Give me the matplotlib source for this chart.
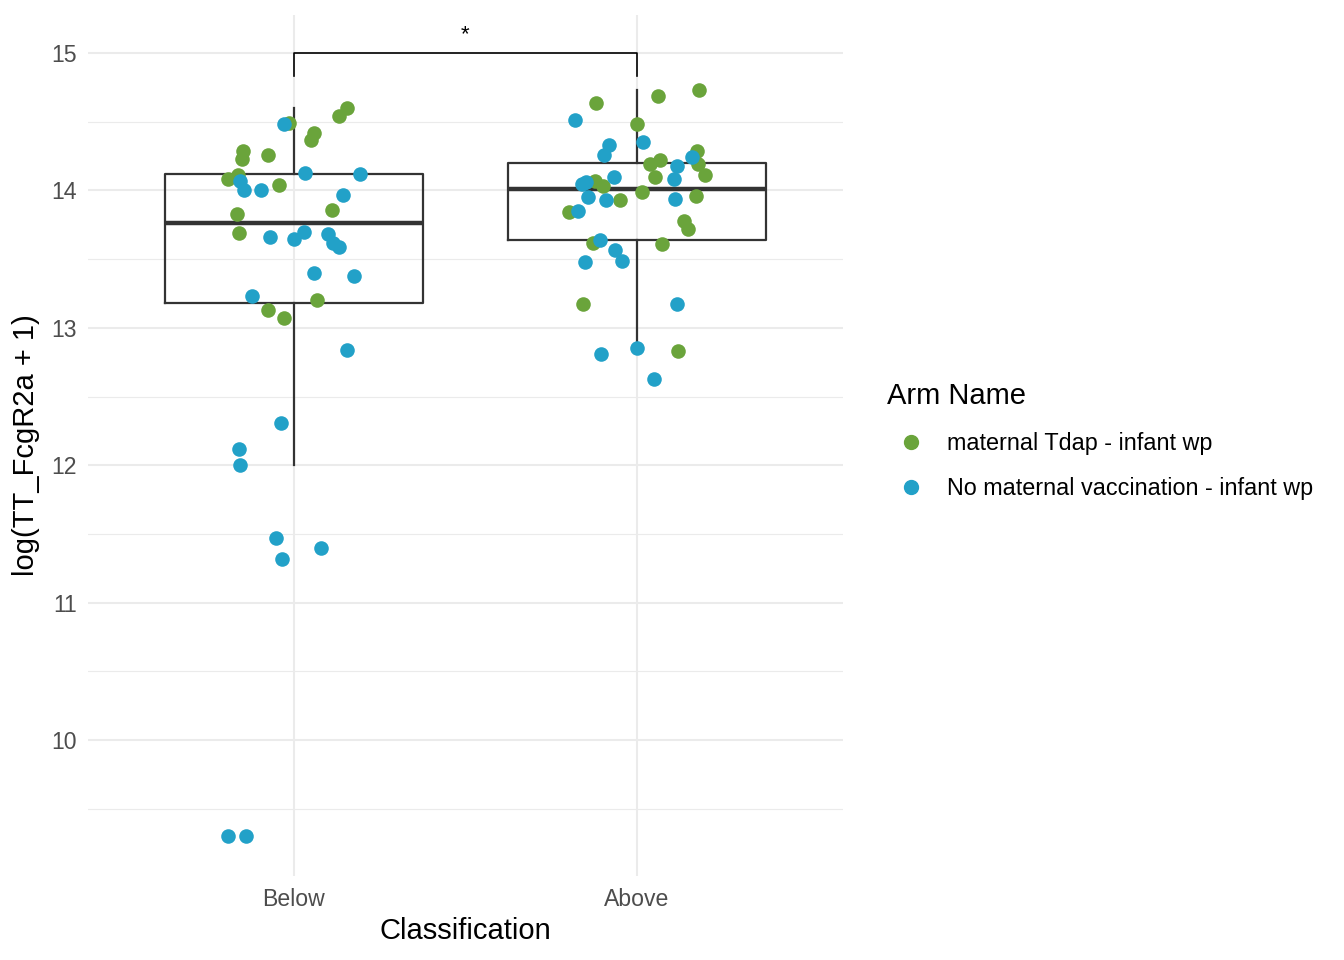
import numpy as np
import matplotlib
matplotlib.use("Agg")
import matplotlib.pyplot as plt
from matplotlib.ticker import MultipleLocator
from matplotlib.lines import Line2D

plt.rcParams['font.family'] = ['Liberation Sans', 'DejaVu Sans']

# categories and groups
categories = ["Below", "Above"]
arms = ["maternal Tdap - infant wp", "No maternal vaccination - infant wp"]
arm_colors = ["#6AA43B", "#22A1C8"]

# jittered points: (x offset from category, value)
below_tdap_dx = [0.156, 0.132, -0.014, 0.059, 0.049, -0.149, -0.151, -0.076, -0.191,
                 -0.164, -0.043, 0.110, -0.167, -0.159, 0.067, -0.076, -0.030]
below_tdap_y = [14.60, 14.54, 14.49, 14.42, 14.37, 14.29, 14.23, 14.26, 14.08,
                14.11, 14.04, 13.86, 13.83, 13.69, 13.20, 13.13, 13.07]

below_none_dx = [-0.028, 0.033, 0.193, -0.156, -0.144, -0.096, 0.144, -0.069, -0.001,
                 0.028, 0.098, 0.115, 0.132, 0.059, 0.175, -0.123, 0.154, -0.038,
                 -0.160, -0.157, -0.052, -0.035, 0.078, -0.192, -0.140]
below_none_y = [14.48, 14.13, 14.12, 14.07, 14.00, 14.00, 13.97, 13.66, 13.65,
                13.70, 13.68, 13.62, 13.59, 13.40, 13.38, 13.23, 12.84, 12.31,
                12.12, 12.00, 11.47, 11.32, 11.40, 9.30, 9.30]

above_tdap_dx = [-0.120, 0.062, 0.180, -0.001, 0.175, 0.178, 0.038, 0.067, 0.198,
                 0.052, -0.122, -0.098, -0.049, 0.014, 0.171, -0.197, 0.138, 0.149,
                 -0.129, 0.074, -0.159, 0.118]
above_tdap_y = [14.64, 14.69, 14.73, 14.48, 14.29, 14.19, 14.19, 14.22, 14.11,
                14.10, 14.07, 14.03, 13.93, 13.99, 13.96, 13.84, 13.78, 13.72,
                13.62, 13.61, 13.17, 12.83]

above_none_dx = [-0.180, 0.017, -0.081, -0.095, 0.159, 0.115, 0.108, -0.066, -0.161,
                 -0.149, -0.142, -0.090, 0.110, -0.171, -0.108, -0.064, -0.151, -0.043,
                 0.115, -0.106, 0.001, 0.050]
above_none_y = [14.51, 14.35, 14.33, 14.26, 14.24, 14.18, 14.08, 14.10, 14.05,
                14.06, 13.95, 13.93, 13.94, 13.85, 13.64, 13.57, 13.48, 13.49,
                13.17, 12.81, 12.85, 12.63]

# box statistics per category
box_q1 = [13.18, 13.64]
box_med = [13.76, 14.01]
box_q3 = [14.12, 14.20]
box_lo = [12.00, 12.85]
box_hi = [14.60, 14.73]

# significance bracket
bracket_y = 15.0
bracket_tip = 14.83
sig_label = "*"

fig = plt.figure(figsize=(13.44, 9.6), dpi=100)
ax = fig.add_axes([88 / 1344, 1 - 876 / 960, 755 / 1344, 861 / 960])

# boxes
stats = []
for i in range(len(categories)):
    stats.append({'q1': box_q1[i], 'med': box_med[i], 'q3': box_q3[i],
                  'whislo': box_lo[i], 'whishi': box_hi[i], 'fliers': []})
ax.bxp(stats, positions=[1, 2], widths=0.75, showfliers=False, showcaps=False,
       manage_ticks=False,
       boxprops=dict(color='#333333', lw=1.6),
       whiskerprops=dict(color='#333333', lw=1.6),
       medianprops=dict(color='#333333', lw=3.2), zorder=2)

# points
ax.scatter(1 + np.array(below_tdap_dx), below_tdap_y, s=110, color=arm_colors[0], lw=0, zorder=3)
ax.scatter(1 + np.array(below_none_dx), below_none_y, s=110, color=arm_colors[1], lw=0, zorder=3)
ax.scatter(2 + np.array(above_tdap_dx), above_tdap_y, s=110, color=arm_colors[0], lw=0, zorder=3)
ax.scatter(2 + np.array(above_none_dx), above_none_y, s=110, color=arm_colors[1], lw=0, zorder=3)

# bracket
ax.plot([1, 1, 2, 2], [bracket_tip, bracket_y, bracket_y, bracket_tip], color='black', lw=1.2, zorder=4)
ax.text(1.5, bracket_y + 0.06, sig_label, ha='center', va='bottom', fontsize=16)

# grid / axes
ax.set_xlim(0.4, 2.6)
ax.set_ylim(9.01, 15.277)
ax.yaxis.set_major_locator(MultipleLocator(1))
ax.yaxis.set_minor_locator(MultipleLocator(0.5))
ax.set_xticks([1, 2])
ax.set_xticklabels(categories)
ax.grid(True, which='major', color='#EBEBEB', lw=1.5)
ax.grid(True, which='minor', axis='y', color='#EBEBEB', lw=0.8)
ax.set_axisbelow(True)
for s in ax.spines.values():
    s.set_visible(False)
ax.tick_params(which='both', length=0)
ax.tick_params(axis='both', labelsize=16.6, labelcolor='#4D4D4D', pad=8)
ax.tick_params(axis='x', pad=9)

ax.set_xlabel("Classification", fontsize=21, labelpad=4)
ax.set_ylabel("log(TT_FcgR2a + 1)", fontsize=21, labelpad=8)

handles = [Line2D([], [], marker='o', ls='', color=c, markersize=10) for c in arm_colors]
leg = fig.legend(handles, arms, loc='center left', bbox_to_anchor=(878 / 1344, 1 - 441 / 960),
                 frameon=False, title="Arm Name", fontsize=16.8, title_fontsize=21,
                 labelspacing=0.95, handletextpad=0.55, alignment='left', borderaxespad=0)

fig.savefig("out.png", dpi=100)
